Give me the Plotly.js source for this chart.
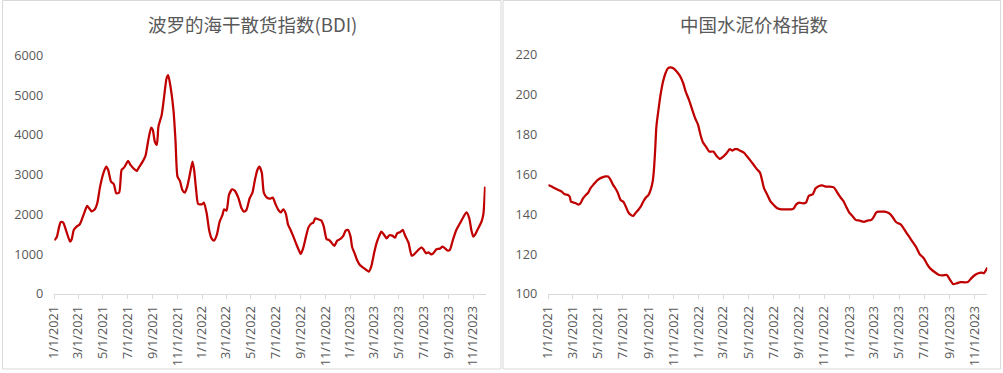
<!DOCTYPE html>
<html>
<head>
<meta charset="utf-8">
<script src="https://cdn.plot.ly/plotly-3.0.1.min.js"></script>
<style>
  html, body { margin: 0; padding: 0; background: #ffffff; }
  #chart { width: 1003px; height: 373px; }
</style>
</head>
<body>
<div id="chart"></div>
<script>
// ---------- data ----------
const bdiTitle = '波罗的海干散货指数(BDI)';
const cementTitle = '中国水泥价格指数';

const bdiDates = [
  '2021-01-01','2021-01-07','2021-01-13','2021-01-17','2021-01-23','2021-01-31','2021-02-09','2021-02-13','2021-02-18','2021-02-25',
  '2021-03-05','2021-03-14','2021-03-23','2021-03-28','2021-04-03','2021-04-11','2021-04-17','2021-04-24','2021-05-02','2021-05-09',
  '2021-05-14','2021-05-21','2021-05-28','2021-06-03','2021-06-10','2021-06-16','2021-06-22','2021-06-26','2021-07-02','2021-07-08',
  '2021-07-15','2021-07-23','2021-07-30','2021-08-07','2021-08-14','2021-08-21','2021-08-28','2021-09-01','2021-09-06','2021-09-11',
  '2021-09-15','2021-09-23','2021-09-29','2021-10-05','2021-10-09','2021-10-15','2021-10-22','2021-10-27','2021-11-01','2021-11-07',
  '2021-11-13','2021-11-19','2021-11-25','2021-12-02','2021-12-08','2021-12-12','2021-12-17','2021-12-22','2022-01-01','2022-01-05',
  '2022-01-12','2022-01-18','2022-01-24','2022-01-30','2022-02-06','2022-02-13','2022-02-20','2022-02-24','2022-03-02','2022-03-08',
  '2022-03-16','2022-03-22','2022-03-31','2022-04-08','2022-04-14','2022-04-20','2022-04-28','2022-05-05','2022-05-11','2022-05-17',
  '2022-05-22','2022-05-28','2022-06-02','2022-06-09','2022-06-17','2022-06-24','2022-07-01','2022-07-08','2022-07-14','2022-07-20',
  '2022-07-26','2022-08-01','2022-08-07','2022-08-14','2022-08-22','2022-08-29','2022-09-01','2022-09-07','2022-09-14','2022-09-20',
  '2022-09-26','2022-10-02','2022-10-07','2022-10-14','2022-10-22','2022-10-28','2022-11-04','2022-11-10','2022-11-16','2022-11-23',
  '2022-11-30','2022-12-08','2022-12-15','2022-12-21','2022-12-27','2023-01-02','2023-01-06','2023-01-12','2023-01-18','2023-01-25',
  '2023-02-02','2023-02-10','2023-02-16','2023-02-22','2023-03-01','2023-03-07','2023-03-13','2023-03-19','2023-03-26','2023-04-01',
  '2023-04-08','2023-04-15','2023-04-22','2023-04-27','2023-05-04','2023-05-11','2023-05-16','2023-05-25','2023-06-02','2023-06-08',
  '2023-06-18','2023-06-26','2023-07-01','2023-07-07','2023-07-13','2023-07-20','2023-07-25','2023-08-02','2023-08-10','2023-08-17',
  '2023-08-23','2023-08-30','2023-09-04','2023-09-12','2023-09-20','2023-09-29','2023-10-07','2023-10-15','2023-10-22','2023-10-27',
  '2023-11-01','2023-11-05','2023-11-11','2023-11-17','2023-11-22','2023-11-26','2023-11-30'
];
const bdiValues = [
  1350,1425,1693,1810,1795,1567,1316,1375,1610,1693,
  1752,1986,2213,2154,2079,2129,2280,2699,3034,3202,
  3118,2825,2758,2531,2548,3118,3177,3244,3344,3244,
  3160,3093,3202,3328,3470,3872,4183,4124,3831,3747,
  4208,4501,4962,5423,5499,5197,4627,3872,2951,2842,
  2615,2548,2699,3034,3328,3118,2615,2263,2255,2297,
  2028,1610,1400,1341,1484,1819,1987,2129,2095,2489,
  2632,2598,2422,2154,2070,2112,2406,2548,2867,3118,
  3202,3051,2548,2431,2397,2422,2255,2112,2054,2129,
  2028,1735,1610,1442,1232,1065,1006,1148,1442,1668,
  1760,1794,1903,1878,1844,1693,1375,1358,1291,1207,
  1341,1383,1459,1593,1610,1442,1174,1023,855,729,
  662,604,562,687,1023,1274,1442,1567,1484,1400,
  1476,1467,1417,1526,1551,1610,1484,1291,964,998,
  1107,1174,1123,1023,1048,998,1023,1123,1140,1190,
  1148,1090,1107,1375,1610,1777,1928,2054,1903,1610,
  1442,1484,1610,1727,1844,2028,2699
];

const cementDates = [
  '2021-01-01','2021-01-09','2021-01-17','2021-01-25','2021-02-02','2021-02-10','2021-02-18','2021-02-22','2021-02-25','2021-03-02',
  '2021-03-09','2021-03-15','2021-03-20','2021-03-26','2021-04-02','2021-04-08','2021-04-13','2021-04-21','2021-04-28','2021-05-04',
  '2021-05-12','2021-05-20','2021-05-26','2021-06-01','2021-06-07','2021-06-15','2021-06-19','2021-06-25','2021-07-02','2021-07-08',
  '2021-07-14','2021-07-20','2021-07-26','2021-08-01','2021-08-07','2021-08-13','2021-08-19','2021-08-26','2021-09-01','2021-09-06',
  '2021-09-11','2021-09-14','2021-09-17','2021-09-20','2021-09-25','2021-09-30','2021-10-06','2021-10-12','2021-10-18','2021-10-24',
  '2021-10-31','2021-11-08','2021-11-16','2021-11-24','2021-11-30','2021-12-08','2021-12-16','2021-12-23','2021-12-30','2022-01-05',
  '2022-01-11','2022-01-19','2022-01-26','2022-02-05','2022-02-13','2022-02-21','2022-03-01','2022-03-09','2022-03-17','2022-03-23',
  '2022-03-29','2022-04-04','2022-04-10','2022-04-20','2022-04-28','2022-05-06','2022-05-14','2022-05-22','2022-05-29','2022-06-03',
  '2022-06-08','2022-06-16','2022-06-24','2022-07-02','2022-07-10','2022-07-20','2022-08-01','2022-08-13','2022-08-19','2022-08-25',
  '2022-09-02','2022-09-10','2022-09-18','2022-09-24','2022-09-30','2022-10-04','2022-10-11','2022-10-19','2022-10-27','2022-11-04',
  '2022-11-14','2022-11-24','2022-12-01','2022-12-09','2022-12-17','2022-12-24','2022-12-31','2023-01-08','2023-01-16','2023-01-26',
  '2023-02-05','2023-02-13','2023-02-23','2023-03-01','2023-03-07','2023-03-15','2023-03-27','2023-04-07','2023-04-15','2023-04-23',
  '2023-04-29','2023-05-05','2023-05-12','2023-05-20','2023-05-31','2023-06-11','2023-06-20','2023-06-30','2023-07-08','2023-07-16',
  '2023-07-27','2023-08-06','2023-08-15','2023-08-25','2023-09-01','2023-09-09','2023-09-17','2023-09-27','2023-10-07','2023-10-15',
  '2023-10-23','2023-11-01','2023-11-09','2023-11-17','2023-11-23','2023-11-28','2023-12-01'
];
const cementValues = [
  154.6,153.8,152.9,152.1,151.3,149.9,149.6,148.7,146.2,145.9,
  145.4,144.7,145.4,147.9,149.6,150.8,152.9,154.9,156.6,157.6,
  158.4,158.9,158.8,157.1,154.6,152.1,150.4,147.1,146.2,143.7,
  140.9,139.6,139.1,140.7,142.1,143.7,146.2,148.4,149.6,152.1,
  156.3,162.1,172.1,183.8,192.2,199.7,206.3,210.5,213.0,213.5,
  213.0,211.4,209.2,205.5,201.3,197.2,192.2,188.0,184.7,179.6,
  175.8,173.5,171.3,171.3,169.1,167.6,168.8,170.5,172.5,171.8,
  172.5,172.5,171.8,170.8,168.8,166.8,164.6,162.4,160.8,157.1,
  152.9,149.6,146.2,144.4,142.9,142.4,142.4,142.4,142.9,144.9,
  145.7,145.4,145.9,149.1,149.6,149.9,152.9,154.1,154.4,153.8,
  153.8,153.4,151.3,148.7,146.6,143.7,140.9,139.1,137.1,136.7,
  136.1,136.7,137.1,138.7,140.9,141.2,141.2,140.4,138.7,136.2,
  135.4,134.9,132.9,130.4,127.0,123.7,120.0,117.9,115.0,112.7,
  110.9,109.5,109.3,109.5,107.3,105.0,105.3,106.0,105.8,106.0,
  107.8,109.5,110.4,110.7,110.4,112.0,113.2
];

const bdiTicks = [0,1000,2000,3000,4000,5000,6000];
const cementTicks = [100,120,140,160,180,200,220];

// ---------- styling ----------
const W = 1003, H = 373;
const px = v => v / W;
const py = v => 1 - v / H;
const lineColor = '#C00000';
const textColor = '#595959';
const axisGray = '#D9D9D9';
const tickFont = {family: 'Open Sans, Liberation Sans, sans-serif', size: 12.7, color: textColor};

const xCommon = {
  type: 'date',
  range: ['2021-01-01', '2023-12-01'],
  tick0: '2021-01-01',
  dtick: 'M2',
  tickformat: '%-m/%-d/%Y',
  tickangle: -90,
  ticks: 'outside',
  ticklen: 4,
  tickcolor: axisGray,
  tickwidth: 1,
  showline: true,
  linecolor: axisGray,
  linewidth: 1,
  showgrid: false,
  zeroline: false,
  fixedrange: true,
  tickfont: tickFont,
  ticklabelstandoff: 2
};
const yCommon = {
  showgrid: false,
  zeroline: false,
  showline: false,
  ticks: '',
  fixedrange: true,
  tickfont: tickFont,
  ticklabelstandoff: 10
};

const traces = [
  {
    x: bdiDates, y: bdiValues, type: 'scatter', mode: 'lines',
    line: {color: lineColor, width: 2.25, shape: 'spline', smoothing: 0.6},
    xaxis: 'x', yaxis: 'y', hoverinfo: 'x+y'
  },
  {
    x: cementDates, y: cementValues, type: 'scatter', mode: 'lines',
    line: {color: lineColor, width: 2.25, shape: 'spline', smoothing: 0.6},
    xaxis: 'x2', yaxis: 'y2', hoverinfo: 'x+y'
  }
];

const layout = {
  width: W, height: H,
  margin: {l: 0, r: 0, t: 0, b: 0},
  paper_bgcolor: '#ffffff',
  plot_bgcolor: '#ffffff',
  showlegend: false,
  xaxis: Object.assign({}, xCommon, {domain: [px(54.3), px(485.5)], anchor: 'y'}),
  yaxis: Object.assign({}, yCommon, {domain: [py(294), py(55.3)], range: [0, 6000], tickvals: bdiTicks, anchor: 'x'}),
  xaxis2: Object.assign({}, xCommon, {domain: [px(548.3), px(987.3)], anchor: 'y2'}),
  yaxis2: Object.assign({}, yCommon, {domain: [py(294), py(54.3)], range: [100, 220], tickvals: cementTicks, anchor: 'x2'}),
  annotations: [
    {text: bdiTitle, xref: 'paper', yref: 'paper', x: px(252), y: py(24), xanchor: 'center', yanchor: 'middle',
     showarrow: false, font: {family: 'Noto Sans CJK SC, sans-serif', size: 18.5, color: textColor}},
    {text: cementTitle, xref: 'paper', yref: 'paper', x: px(754), y: py(24), xanchor: 'center', yanchor: 'middle',
     showarrow: false, font: {family: 'Noto Sans CJK SC, sans-serif', size: 18.5, color: textColor}}
  ],
  shapes: [
    {type: 'rect', xref: 'paper', yref: 'paper', x0: px(2.5), x1: px(501), y0: py(369), y1: py(0.5),
     line: {color: axisGray, width: 1}, fillcolor: 'rgba(0,0,0,0)', layer: 'below'},
    {type: 'rect', xref: 'paper', yref: 'paper', x0: px(503), x1: px(1000.5), y0: py(369), y1: py(0.5),
     line: {color: axisGray, width: 1}, fillcolor: 'rgba(0,0,0,0)', layer: 'below'}
  ]
};

Plotly.newPlot('chart', traces, layout, {displayModeBar: false, staticPlot: true});
</script>
</body>
</html>
